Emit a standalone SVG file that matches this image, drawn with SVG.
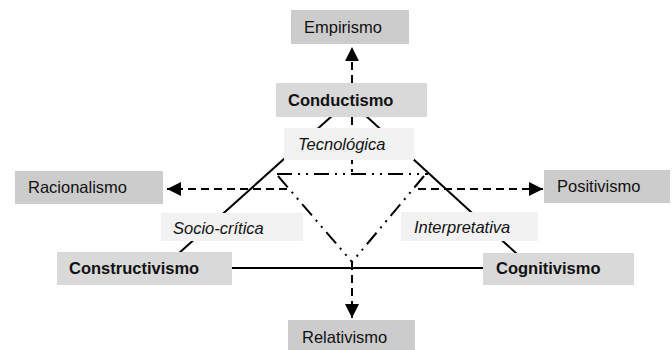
<svg xmlns="http://www.w3.org/2000/svg" width="672" height="350" viewBox="0 0 672 350">
<defs>
<style>
.pole{fill:#cccccc}
.main{fill:#d9d9d9}
.lab{fill:#f2f2f2}
text{font-family:"Liberation Sans",Arial,sans-serif;font-size:16.5px;fill:#111}
.b{font-weight:bold}
.i{font-style:italic}
.solid{stroke:#000;stroke-width:2;fill:none}
.dash{stroke:#000;stroke-width:2;fill:none;stroke-dasharray:8 5}
.dd{stroke:#000;stroke-width:2;fill:none;stroke-dasharray:15 6 2 6 2 6}
</style>
<marker id="ah" viewBox="0 0 14 14" refX="14" refY="7" markerWidth="14" markerHeight="14" markerUnits="userSpaceOnUse" orient="auto">
<path d="M0,0 L14,7 L0,14 Z" fill="#000"/>
</marker>
</defs>
<rect width="672" height="350" fill="#fff"/>
<g id="connectors">
<line class="solid" x1="333" y1="115" x2="178" y2="254"/>
<line class="solid" x1="365" y1="115" x2="517" y2="254"/>
<line class="solid" x1="232" y1="268" x2="483" y2="268"/>
<line class="dd" x1="277" y1="174" x2="428" y2="174"/>
<line class="dd" x1="278" y1="176" x2="352" y2="262"/>
<line class="dd" x1="424" y1="176" x2="352" y2="262"/>
<line class="dash" x1="352" y1="83" x2="352" y2="47" marker-end="url(#ah)"/>
<line class="dash" x1="352" y1="117" x2="352" y2="172"/>
<line class="dash" x1="352" y1="262" x2="352" y2="318" stroke-dasharray="7 4" marker-end="url(#ah)"/>
<line class="dash" x1="287" y1="189" x2="167" y2="189" marker-end="url(#ah)"/>
<line class="dash" x1="418" y1="189" x2="543" y2="189" marker-end="url(#ah)"/>
</g>
<g id="empirismo"><rect class="pole" x="291" y="10" width="118" height="34"/><text x="304" y="33">Empirismo</text></g>
<g id="conductismo"><rect class="main" x="276" y="83" width="151" height="34"/><text class="b" x="288" y="106">Conductismo</text></g>
<g id="tecnologica"><rect class="lab" x="284" y="128" width="130" height="32"/><text class="i" x="298" y="150">Tecnológica</text></g>
<g id="racionalismo"><rect class="pole" x="15" y="171" width="148" height="33"/><text x="28" y="193">Racionalismo</text></g>
<g id="positivismo"><rect class="pole" x="544" y="170" width="126" height="33"/><text x="557" y="192">Positivismo</text></g>
<g id="sociocritica"><rect class="lab" x="161" y="213" width="142" height="28"/><text class="i" x="173" y="234">Socio-crítica</text></g>
<g id="interpretativa"><rect class="lab" x="401" y="212" width="137" height="29"/><text class="i" x="414" y="233">Interpretativa</text></g>
<g id="constructivismo"><rect class="main" x="57" y="252" width="175" height="33"/><text class="b" x="69" y="274">Constructivismo</text></g>
<g id="cognitivismo"><rect class="main" x="483" y="253" width="151" height="32"/><text class="b" x="496" y="274">Cognitivismo</text></g>
<g id="relativismo"><rect class="pole" x="288" y="320" width="127" height="32"/><text x="302" y="343">Relativismo</text></g>
</svg>
